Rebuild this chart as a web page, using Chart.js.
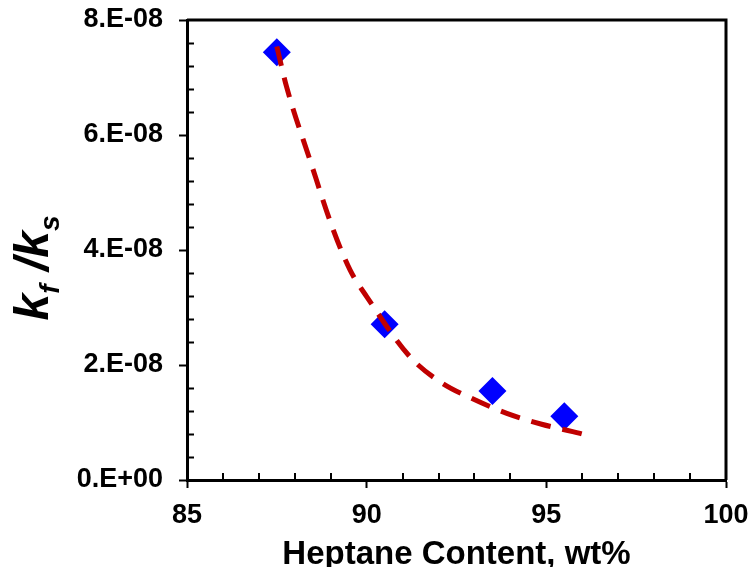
<!DOCTYPE html>
<html>
<head>
<meta charset="utf-8">
<script src="https://cdn.jsdelivr.net/npm/chart.js@4/dist/chart.umd.min.js"></script>
<style>
  html, body { margin: 0; padding: 0; background: #fff; }
  #chart { display: block; }
</style>
</head>
<body>
<canvas id="chart" width="751" height="567"></canvas>
<script>
// measured points (wt% heptane, kf/ks)
const heptane = [87.5, 90.5, 93.5, 95.5];
const ratio = [7.44e-8, 2.71e-8, 1.55e-8, 1.11e-8];

// dashed fit line
const fitX = [87.5, 87.77, 88.42, 89.07, 89.54, 90.0, 91.21, 92.04, 92.92, 93.9, 94.87, 95.94, 96.16];
const fitY = [7.54e-8, 6.84e-8, 5.57e-8, 4.35e-8, 3.65e-8, 3.19e-8, 2.14e-8, 1.71e-8, 1.42e-8, 1.16e-8, 0.97e-8, 0.81e-8, 0.77e-8];

const yTickLabels = ['0.E+00', '2.E-08', '4.E-08', '6.E-08', '8.E-08'];
const xTickLabels = ['85', '90', '95', '100'];

const FONT = "'Liberation Sans', Arial, sans-serif";

// box, minor ticks and axis titles
const decor = {
    id: 'decor',
    afterDraw(chart) {
        const ctx = chart.ctx;
        const a = chart.chartArea;
        const xs = chart.scales.x, ys = chart.scales.y;
        ctx.save();
        ctx.strokeStyle = '#000';
        ctx.lineWidth = 3;
        ctx.beginPath();
        ctx.moveTo(a.left, a.top);
        ctx.lineTo(a.right, a.top);
        ctx.lineTo(a.right, a.bottom);
        ctx.stroke();

        ctx.lineWidth = 2;
        ctx.beginPath();
        for (let i = 1; i < 20; i++) {
            if (i % 5 == 0) continue;
            const py = Math.round(ys.getPixelForValue(i * 0.4e-8)) + 0.5;
            ctx.moveTo(a.left, py);
            ctx.lineTo(a.left + 7, py);
        }
        for (let v = 86; v < 100; v++) {
            if (v % 5 == 0) continue;
            const px = Math.round(xs.getPixelForValue(v));
            ctx.moveTo(px, a.bottom);
            ctx.lineTo(px, a.bottom - 7);
        }
        ctx.stroke();

        ctx.fillStyle = '#000';
        ctx.textBaseline = 'alphabetic';
        ctx.textAlign = 'center';
        ctx.font = 'bold 33px ' + FONT;
        ctx.fillText('Heptane Content, wt%', (a.left + a.right) / 2, 564);

        // k_f/k_s, rotated
        ctx.translate(48, 268);
        ctx.rotate(-Math.PI / 2);
        const big = 'italic bold 48px ' + FONT;
        const small = 'italic bold 28px ' + FONT;
        const parts = [['k', big, 0], ['f', small, 11], [' /', big, 0], ['k', big, 0], ['s', small, 11]];
        let w = 0;
        parts.forEach(p => { ctx.font = p[1]; w += ctx.measureText(p[0]).width; });
        let x = -w / 2;
        ctx.textAlign = 'left';
        parts.forEach(p => {
            ctx.font = p[1];
            ctx.fillText(p[0], x, p[2]);
            x += ctx.measureText(p[0]).width;
        });
        ctx.restore();
    }
};

new Chart(document.getElementById('chart'), {
    type: 'scatter',
    data: {
        datasets: [{
            data: fitX.map((x, i) => ({x: x, y: fitY[i]})),
            showLine: true,
            borderColor: '#C00000',
            borderWidth: 5,
            borderDash: [20, 12],
            pointRadius: 0,
            cubicInterpolationMode: 'monotone',
            order: 0
        }, {
            data: heptane.map((x, i) => ({x: x, y: ratio[i]})),
            pointStyle: 'rectRot',
            pointRadius: 14,
            backgroundColor: '#0000FF',
            borderWidth: 0,
            order: 1
        }]
    },
    options: {
        responsive: false,
        devicePixelRatio: 1,
        animation: false,
        layout: { padding: { top: 20, right: 25, left: 0, bottom: 0 } },
        plugins: { legend: { display: false }, tooltip: { enabled: false } },
        scales: {
            x: {
                type: 'linear',
                min: 85,
                max: 100,
                afterFit: s => { s.height = 87; s.paddingLeft = 0; s.paddingRight = 0; },
                ticks: {
                    stepSize: 5,
                    color: '#000',
                    padding: 11,
                    font: { family: FONT, size: 27, weight: 'bold' },
                    callback: (v, i) => xTickLabels[i]
                },
                grid: { drawOnChartArea: false, color: '#000', tickLength: 8, tickWidth: 2 },
                border: { color: '#000', width: 3 }
            },
            y: {
                min: 0,
                max: 8e-8,
                afterFit: s => { s.width = 187; s.paddingTop = 0; s.paddingBottom = 0; },
                ticks: {
                    stepSize: 2e-8,
                    color: '#000',
                    padding: 16,
                    font: { family: FONT, size: 27, weight: 'bold' },
                    callback: (v, i) => yTickLabels[i]
                },
                grid: { drawOnChartArea: false, color: '#000', tickLength: 8, tickWidth: 2 },
                border: { color: '#000', width: 3 }
            }
        }
    },
    plugins: [decor]
});
</script>
</body>
</html>
